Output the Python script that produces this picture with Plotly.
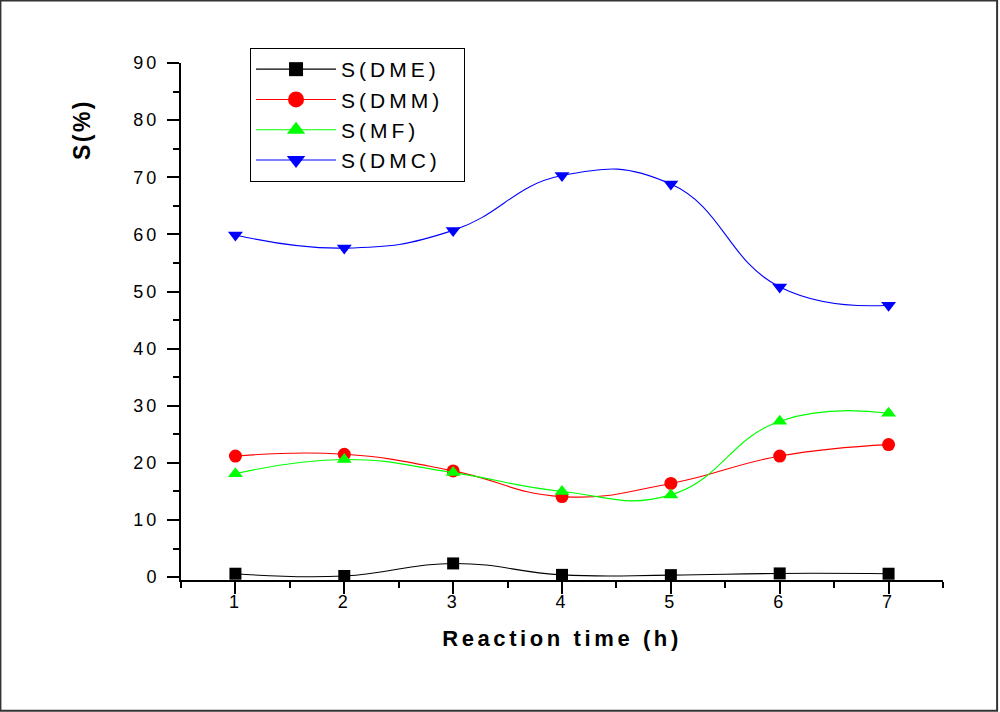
import plotly.graph_objects as go

# Reaction time (h) and selectivities (%)
time_h = [1, 2, 3, 4, 5, 6, 7]
s_dme = [0.6, 0.2, 2.4, 0.4, 0.35, 0.65, 0.6]
s_dmm = [21.2, 21.5, 18.6, 14.1, 16.4, 21.2, 23.2]
s_mf = [18.1, 20.6, 18.3, 15.0, 14.4, 27.3, 28.7]
s_dmc = [59.9, 57.6, 60.7, 70.3, 68.8, 50.8, 47.6]

# name, values, colour, symbol, marker size in plot, marker size in legend
series = [
    ("S(DME)", s_dme, "#000000", "square", 12, 14),
    ("S(DMM)", s_dmm, "#ff0000", "circle", 13, 16),
    ("S(MF)", s_mf, "#00ff00", "triangle-up", 13, 16),
    ("S(DMC)", s_dmc, "#0000ff", "triangle-down", 13, 16),
]

FONT = "Liberation Sans, Arial"

fig = go.Figure()
for name, vals, color, sym, size, lsize in series:
    fig.add_trace(go.Scatter(
        x=time_h, y=vals, name=name, mode="lines+markers", showlegend=False,
        line=dict(color=color, width=1.1, shape="spline", smoothing=1.3),
        marker=dict(symbol=sym, size=size, color=color),
    ))
    # legend entry only, with the bigger legend symbol
    fig.add_trace(go.Scatter(
        x=[None], y=[None], name=name, mode="lines+markers",
        line=dict(color=color, width=1.1),
        marker=dict(symbol=sym, size=lsize, color=color),
    ))

axis_font = dict(family=FONT, size=18, color="black")
fig.update_xaxes(
    range=[0.5, 7.5], tickvals=time_h, ticks="outside", ticklen=12, tickwidth=2,
    tickcolor="black", showline=True, linecolor="black", linewidth=2,
    showgrid=False, zeroline=False, tickfont=axis_font, ticklabelstandoff=-8,
    minor=dict(dtick=0.5, tick0=0.5, ticks="outside", ticklen=6, tickwidth=2, tickcolor="black"),
    title=dict(text="<b>Reaction time (h)</b>", standoff=20,
               font=dict(family=FONT, size=22, color="black")),
)
fig.update_yaxes(
    range=[-0.5, 90], tickvals=list(range(0, 100, 10)), ticks="outside", ticklen=12,
    tickwidth=2, tickcolor="black", showline=True, linecolor="black", linewidth=2,
    showgrid=False, zeroline=False, tickfont=axis_font, ticklabelstandoff=4,
    minor=dict(dtick=5, tick0=0, ticks="outside", ticklen=6, tickwidth=2, tickcolor="black"),
)

# y title sits near the top of the axis, as in the original
fig.add_annotation(
    text="<b>S(%)</b>", x=-0.13, y=0.872, xref="paper", yref="paper",
    xanchor="center", yanchor="middle", textangle=-90, showarrow=False,
    font=dict(family=FONT, size=23, color="black"),
)

# outer frame around the whole picture
fig.add_shape(type="rect", xref="paper", yref="paper",
              x0=-0.237, x1=1.071, y0=-0.253, y1=1.121,
              line=dict(color="#333333", width=2))

fig.update_layout(
    width=1000, height=712,
    margin=dict(l=181, r=57, t=63, b=132),
    plot_bgcolor="white", paper_bgcolor="white",
    showlegend=True,
    legend=dict(
        x=0.0906, y=1.029, xanchor="left", yanchor="top",
        bordercolor="black", borderwidth=1, bgcolor="white",
        font=dict(family=FONT, size=21, color="black"),
        itemwidth=80,
    ),
)

# wide letter spacing of the original lettering, no page margin
post = """
document.body.style.margin = '0px';
var gd = document.getElementById('{plot_id}');
function spacing() {
  gd.querySelectorAll('.xtitle').forEach(function(e) { e.setAttribute('letter-spacing', '3.6px'); });
  gd.querySelectorAll('.annotation-text').forEach(function(e) { e.setAttribute('letter-spacing', '2.5px'); });
  gd.querySelectorAll('.legendtext').forEach(function(e) { e.setAttribute('letter-spacing', '4px'); });
  gd.querySelectorAll('.xtick text, .ytick text').forEach(function(e) { e.setAttribute('letter-spacing', '3px'); });
  gd.querySelectorAll('.legend rect.bg').forEach(function(r) { r.setAttribute('width', '214'); });
  document.querySelectorAll('clipPath[id^="legend"] rect').forEach(function(r) { r.setAttribute('width', '214'); });
}
spacing();
gd.on('plotly_afterplot', spacing);
"""
fig.write_html("out.html", post_script=post, config={"displayModeBar": False})
